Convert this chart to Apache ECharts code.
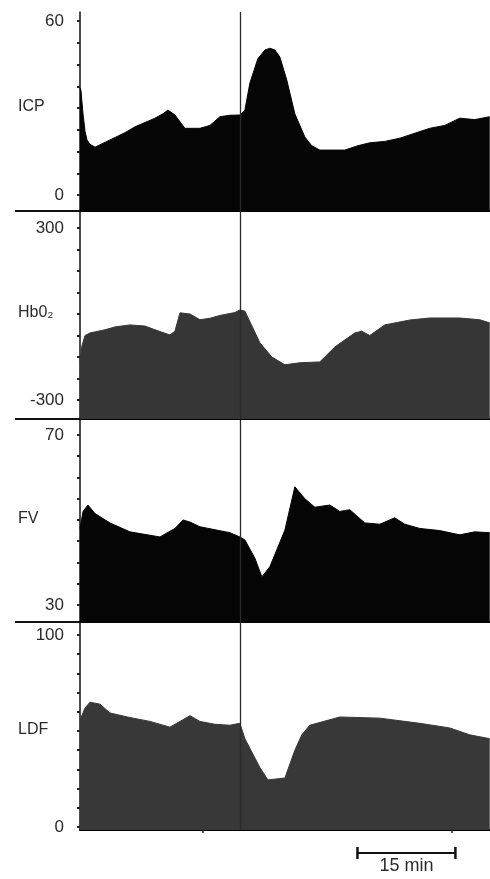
<!DOCTYPE html>
<html>
<head>
<meta charset="utf-8">
<script src="https://cdn.jsdelivr.net/npm/echarts@6/dist/echarts.min.js"></script>
<style>
html,body{margin:0;padding:0;background:#fff;}
#chart{width:490px;height:879px;}
</style>
</head>
<body>
<div id="chart"></div>
<script>
// ---- data (time in minutes) ----
var panelNames = ['ICP', 'Hb0\u2082', 'FV', 'LDF'];

var icpTime   = [0,0.15,0.46,0.77,1.07,1.53,2.3,4.59,6.89,8.42,11.48,12.7,13.47,14.54,16.07,18.37,19.9,21.43,22.96,24.49,25.26,26.02,27.24,28.32,29.08,29.85,30.61,31.68,32.91,34.44,35.5,36.73,40.56,42.55,44.39,46.68,48.98,53.57,55.87,58.16,60.46,62.76];
var icpValues = [37,36,28,22,19,17.5,16.5,19,21.5,23.5,26.5,28,29.3,27.6,23,23,24,27,27.5,27.6,29.3,38.6,47,50,50.6,50,47.6,39.6,28,20,17,15.5,15.5,17,18,18.5,19.6,23,24,26.5,26,27];

var hbTime   = [0,0.31,0.77,1.53,3.83,5.36,7.65,9.95,11.48,13.78,14.54,15.31,16.84,18.37,19.9,21.43,23.72,24.49,25.26,27.55,29.39,31.38,33.67,36.73,39.03,42.09,43.16,44.39,46.68,50.51,53.57,58.16,61.22,62.76];
var hbValues = [-165,-110,-75,-66,-55,-45,-38,-42,-55,-73,-60,4,0,-20,-15,-5,5,14,10,-100,-150,-177,-170,-167,-115,-66,-60,-75,-38,-21,-14,-14,-20,-31];

var fvTime   = [0,0.46,1.22,2.3,4.59,7.65,12.24,14.54,15.77,16.84,18.37,22.96,24.49,25.26,26.79,27.86,29.08,31.38,32.91,34.44,35.97,38.27,39.8,41.33,43.62,45.92,48.21,49.74,52.04,55.1,58.16,60.46,62.76];
var fvValues = [48,52,53.5,51.5,49.3,47.2,46,48,50,49.5,48.4,47,46,45.3,41,36.6,39,47.6,57.8,55,53,53.5,52,52.4,49.3,49,50.5,49,48,47.5,46.5,47.2,47];

var ldfTime   = [0,0.77,1.53,3.06,4.59,7.65,10.71,13.78,15.31,16.84,18.37,20.66,22.96,24.49,25.26,27.55,28.78,31.38,32.91,33.98,35.2,39.8,45.92,52.04,56.63,59.69,62.76];
var ldfValues = [55.7,62,65,64,59.4,57,55,52,55,58,55,53.5,53,54,46,31,24.5,25.5,40,48,53,57.3,56.7,54,51.6,48,46];

var yLabelValues = [[0,60],[-300,300],[30,70],[0,100]];
var yTickValues = [
  [0,7.5,15,22.5,30,37.5,45,52.5,60],
  [-300,-225,-150,-75,0,75,150,225,300],
  [30,35,40,45,50,55,60,65,70],
  [0,10,20,30,40,50,60,70,80,90,100]
];
var yRanges = [[-5.5,63.1],[-366,359],[26,73.5],[-1.6,106.8]];
var xTickValues = [18.8, 56.9];
var eventTime = 24.5;
var scaleBar = [42.5, 57.5];
var scaleBarLabel = '15 min';
var xMax = 62.8;

// ---- layout ----
var gridBoxes = [[12,211],[211,419],[420,622],[622,830]];
var fills = ['#050505','#363636','#050505','#383838'];
var FONT = 'Liberation Sans, Arial, Helvetica, sans-serif';

function pairs(t, v){ return t.map(function(x,i){ return [x, v[i]]; }); }
var seriesData = [pairs(icpTime,icpValues), pairs(hbTime,hbValues), pairs(fvTime,fvValues), pairs(ldfTime,ldfValues)];

var grids = [], xAxes = [], yAxes = [], series = [], graphics = [];
gridBoxes.forEach(function(b, i){
  grids.push({left:80, right:0, top:b[0], height:b[1]-b[0]});
  xAxes.push({
    type:'value', gridIndex:i, min:0, max:xMax,
    axisLine:{show:true, onZero:false, lineStyle:{color:'#000', width:2}},
    axisTick:{show:i===3, length:3, lineStyle:{color:'#222', width:1.5}, customValues: xTickValues},
    axisLabel:{show:false}, splitLine:{show:false}
  });
  yAxes.push({
    type:'value', gridIndex:i, min:yRanges[i][0], max:yRanges[i][1],
    axisLine:{show:true, onZero:false, lineStyle:{color:'#111', width:1.5}},
    axisTick:{show:true, length:3, lineStyle:{color:'#222', width:2}, customValues: yTickValues[i]},
    axisLabel:{show:true, customValues: yLabelValues[i], margin:16, color:'#2a2a2a', fontSize:17, fontFamily:FONT},
    splitLine:{show:false}
  });
  series.push({
    type:'line', xAxisIndex:i, yAxisIndex:i, data:seriesData[i],
    symbol:'none', smooth:false,
    lineStyle:{color:fills[i], width:1},
    areaStyle:{color:fills[i], opacity:1, origin:'start'},
    markLine:{
      silent:true, symbol:['none','none'], label:{show:false},
      lineStyle:{color:'#2a2a2a', width:1.3, type:'solid'},
      data:[{xAxis: eventTime}]
    },
    z:2
  });
  var mid = (yLabelValues[i][0] + yLabelValues[i][1]) / 2;
  graphics.push({
    type:'text', left:18,
    top: b[0] + (yRanges[i][1]-mid)/(yRanges[i][1]-yRanges[i][0])*(b[1]-b[0]) - 9,
    style:{text:panelNames[i], font:'16px ' + FONT, fill:'#2a2a2a'}
  });
  if (i < 3) {
    graphics.push({type:'line', shape:{x1:15, y1:b[1], x2:80, y2:b[1]}, style:{stroke:'#111', lineWidth:1.8}});
  }
});

// scale bar grid
grids.push({left:80, right:0, top:845, height:16});
xAxes.push({type:'value', gridIndex:4, min:0, max:xMax, show:false});
yAxes.push({type:'value', gridIndex:4, min:0, max:1, show:false});
series.push({
  type:'line', xAxisIndex:4, yAxisIndex:4,
  data:[
    {value:[scaleBar[0],0.5], symbol:'rect', symbolSize:[2.5,12]},
    {value:[(scaleBar[0]+scaleBar[1])/2,0.5], symbol:'circle', symbolSize:0.01,
     label:{show:true, position:'bottom', distance:4, formatter:scaleBarLabel, color:'#2a2a2a', fontSize:18, fontFamily:FONT}},
    {value:[scaleBar[1],0.5], symbol:'rect', symbolSize:[2.5,12]}
  ],
  lineStyle:{color:'#111', width:2}, itemStyle:{color:'#111'}, showSymbol:true, showAllSymbol:true
});

var chart = echarts.init(document.getElementById('chart'), null, {renderer:'canvas'});
chart.setOption({
  animation:false,
  backgroundColor:'#fff',
  grid:grids, xAxis:xAxes, yAxis:yAxes, series:series,
  graphic:graphics
});
</script>
</body>
</html>
